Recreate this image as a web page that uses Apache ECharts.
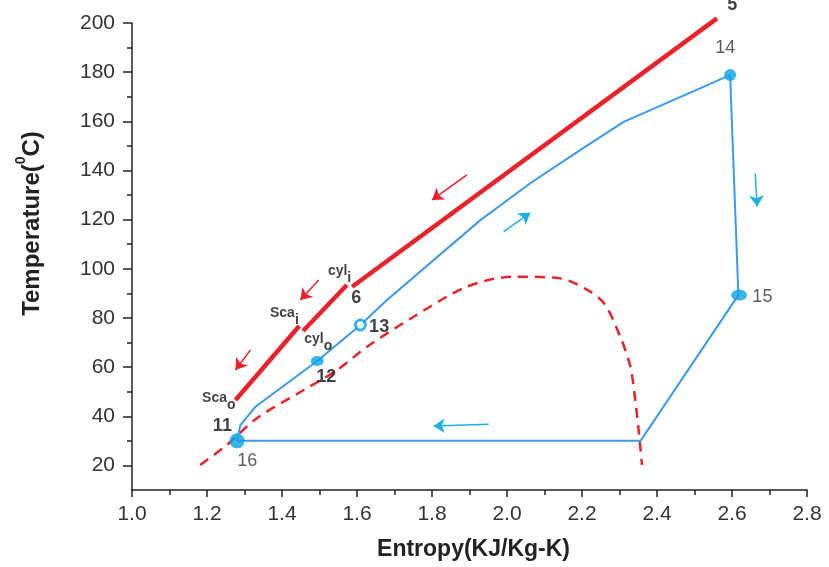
<!DOCTYPE html>
<html>
<head>
<meta charset="utf-8">
<script src="https://cdn.jsdelivr.net/npm/echarts@6/dist/echarts.min.js"></script>
<style>html,body{margin:0;padding:0;background:#fff}#c{width:829px;height:567px}</style>
</head>
<body>
<div id="c"></div>
<script>
// ---- data (entropy kJ/kg-K, temperature °C) ----
const xTicks = [1.0,1.2,1.4,1.6,1.8,2.0,2.2,2.4,2.6,2.8];
const yTicks = [20,40,60,80,100,120,140,160,180,200];
const yMinorTicks = [30,50,70,90,110,130,150,170,190];

// hot gas (red solid) in three segments: Sca_o -> Sca_i, Sca_i -> cyl_i(6), cyl_i -> 5
const redSeg1S = [1.276, 1.446];
const redSeg1T = [46.6, 76.7];
const redSeg2S = [1.456, 1.573];
const redSeg2T = [74.7, 93.4];
const redSeg3S = [1.587, 2.560];
const redSeg3T = [92.7, 201.9];

// working fluid cycle (blue)
const cycleS = [1.280, 1.289, 1.330, 1.494, 1.609, 1.680, 1.929, 2.062, 2.195, 2.311, 2.595, 2.617, 2.356, 1.280];
const cycleT = [30.0, 36.4, 44.0, 62.5, 77.1, 87.3, 119.8, 134.8, 148.3, 159.8, 178.8, 89.3, 30.0, 30.0];

// saturation dome (red dashed)
const domeS = [1.182, 1.253, 1.333, 1.458, 1.547, 1.627, 1.751, 1.893, 2.018, 2.142, 2.222, 2.262, 2.302, 2.329, 2.342, 2.351, 2.360];
const domeT = [20.2, 28.3, 39.2, 50.7, 58.8, 68.3, 80.5, 92.7, 96.8, 96.1, 90.7, 85.3, 72.4, 60.2, 46.6, 34.4, 20.2];

// state points with markers: 16, 12, 13, 14, 15
const stateNames = ['16', '12', '13', '14', '15'];
const stateS = [1.280, 1.494, 1.609, 2.595, 2.619];
const stateT = [30.0, 62.5, 77.1, 178.8, 89.3];

// arrows: [S0, T0, S1, T1]
const redArrows = [
  [1.893, 138.2, 1.800, 128.0],
  [1.498, 95.4, 1.449, 87.3],
  [1.316, 67.0, 1.276, 58.8]
];
const blueArrows = [
  [1.991, 115.1, 2.062, 122.8],
  [2.662, 138.8, 2.667, 125.3],
  [1.951, 36.7, 1.804, 36.0]
];

// annotation labels
const annoText = ['5', '14', '15', '16', '13', '12', '11', '6', 'cyl|i', 'Sca|i', 'cyl|o', 'Sca|o'];
const annoS = [2.6008, 2.582, 2.681, 1.3075, 1.659, 1.518, 1.241, 1.598, 1.5535, 1.4064, 1.4968, 1.2315];
const annoT = [207.3, 189.8, 88.5, 21.8, 76.3, 56.0, 36.0, 88.1, 97.5, 80.4, 70.0, 46.0];
const annoBold = [true, false, false, false, true, true, true, true, true, true, true, true];

// ---- build ----
const zip = (a, b) => a.map((v, i) => [v, b[i]]);
const RED = '#e8232b';
const BLUE = '#3d98ef';
const MARK = '#09a3e3';
const ARROW_BLUE = '#1ab0e6';
const FONT = 'Liberation Sans, Arial, sans-serif';

const markerStyles = {
  '16': { symbolSize: 15, itemStyle: { color: MARK } },
  '12': { symbolSize: [13, 10], itemStyle: { color: MARK } },
  '13': { symbolSize: 10, itemStyle: { color: '#fff', borderColor: MARK, borderWidth: 3 } },
  '14': { symbolSize: 12, itemStyle: { color: MARK } },
  '15': { symbolSize: [16, 11], itemStyle: { color: MARK } }
};

const labelData = annoText.map((t, i) => {
  let fmt;
  if (t.indexOf('|') >= 0) {
    const p = t.split('|');
    fmt = '{a|' + p[0] + '}{s|' + p[1] + '}';
  } else {
    fmt = annoBold[i] ? '{b|' + t + '}' : '{n|' + t + '}';
  }
  return { value: [annoS[i], annoT[i]], label: { formatter: fmt } };
});

const arrowSeries = (arr, color) => ({
  type: 'lines',
  coordinateSystem: 'cartesian2d',
  z: 6,
  symbol: ['none', 'arrow'],
  symbolSize: 11,
  silent: true,
  lineStyle: { color: color, width: 1.5, opacity: 1, curveness: 0 },
  data: arr.map(a => ({ coords: [[a[0], a[1]], [a[2], a[3]]] }))
});

const option = {
  animation: false,
  backgroundColor: '#fff',
  grid: { left: 132, right: 22, top: 23, bottom: 77, containLabel: false, outerBoundsMode: 'none' },
  xAxis: {
    type: 'value', min: 1.0, max: 2.8, interval: 0.2,
    name: 'Entropy(KJ/Kg-K)', nameLocation: 'middle', nameGap: 48,
    nameTextStyle: { fontFamily: FONT, fontSize: 23, fontWeight: 'bold', color: '#222', padding: [0, 0, 0, 8] },
    axisLine: { lineStyle: { color: '#222', width: 1.5 } },
    axisTick: { length: 7, lineStyle: { color: '#222', width: 1.5 } },
    minorTick: { show: true, splitNumber: 2, length: 5, lineStyle: { color: '#222', width: 1.5 } },
    splitLine: { show: false },
    axisLabel: { margin: 14, fontFamily: FONT, fontSize: 21, color: '#333', formatter: v => v.toFixed(1) }
  },
  yAxis: [{
    type: 'value', min: 10, max: 200,
    name: '{n|Temperature(}{s|0}{n|C)}', nameLocation: 'middle', nameGap: 88,
    nameTextStyle: { padding: [0, 0, 0, 66], rich: {
      n: { fontFamily: FONT, fontSize: 24, fontWeight: 'bold', color: '#222', lineHeight: 30, verticalAlign: 'bottom' },
      s: { fontFamily: FONT, fontSize: 14, fontWeight: 'bold', color: '#222', lineHeight: 30, verticalAlign: 'top' }
    } },
    axisLine: { show: true, lineStyle: { color: '#222', width: 1.5 } },
    axisTick: { show: true, length: 9, customValues: yTicks, lineStyle: { color: '#222', width: 1.5 } },
    splitLine: { show: false },
    axisLabel: { margin: 17, fontFamily: FONT, fontSize: 21, color: '#333', customValues: yTicks }
  }, {
    type: 'value', min: 10, max: 200, position: 'left',
    axisLine: { show: false },
    axisTick: { show: true, length: 5, customValues: yMinorTicks, lineStyle: { color: '#222', width: 1.5 } },
    axisLabel: { show: false },
    splitLine: { show: false }
  }],
  series: [
    { type: 'line', data: zip(domeS, domeT), smooth: 0.3, showSymbol: false, symbol: 'none', clip: false,
      lineStyle: { color: RED, width: 2.5, type: [10, 7] }, z: 2 },
    { type: 'line', data: zip(cycleS, cycleT), smooth: false, showSymbol: false, symbol: 'none', clip: false,
      lineStyle: { color: BLUE, width: 2 }, z: 3 },
    { type: 'line', data: zip(redSeg1S, redSeg1T), showSymbol: false, symbol: 'none', clip: false,
      lineStyle: { color: RED, width: 4.5 }, z: 4 },
    { type: 'line', data: zip(redSeg2S, redSeg2T), showSymbol: false, symbol: 'none', clip: false,
      lineStyle: { color: RED, width: 4.5 }, z: 4 },
    { type: 'line', data: zip(redSeg3S, redSeg3T), showSymbol: false, symbol: 'none', clip: false,
      lineStyle: { color: RED, width: 4.5 }, z: 4 },
    { type: 'scatter', z: 5, clip: false,
      data: stateNames.map((n, i) => Object.assign({ value: [stateS[i], stateT[i]] }, markerStyles[n])) },
    arrowSeries(redArrows, RED),
    arrowSeries(blueArrows, ARROW_BLUE),
    { type: 'scatter', z: 7, symbolSize: 1, clip: false, silent: true,
      itemStyle: { color: 'rgba(0,0,0,0)' },
      label: { show: true, position: 'inside', align: 'center', verticalAlign: 'middle',
        rich: {
          b: { fontFamily: FONT, fontSize: 18, fontWeight: 'bold', color: '#111' },
          n: { fontFamily: FONT, fontSize: 18, color: '#333' },
          a: { fontFamily: FONT, fontSize: 14, fontWeight: 'bold', color: '#111', lineHeight: 21, verticalAlign: 'top' },
          s: { fontFamily: FONT, fontSize: 14, fontWeight: 'bold', color: '#111', lineHeight: 21, verticalAlign: 'bottom' }
        } },
      data: labelData }
  ]
};

const chart = echarts.init(document.getElementById('c'), null, { renderer: 'canvas' });
chart.setOption(option);
</script>
</body>
</html>
